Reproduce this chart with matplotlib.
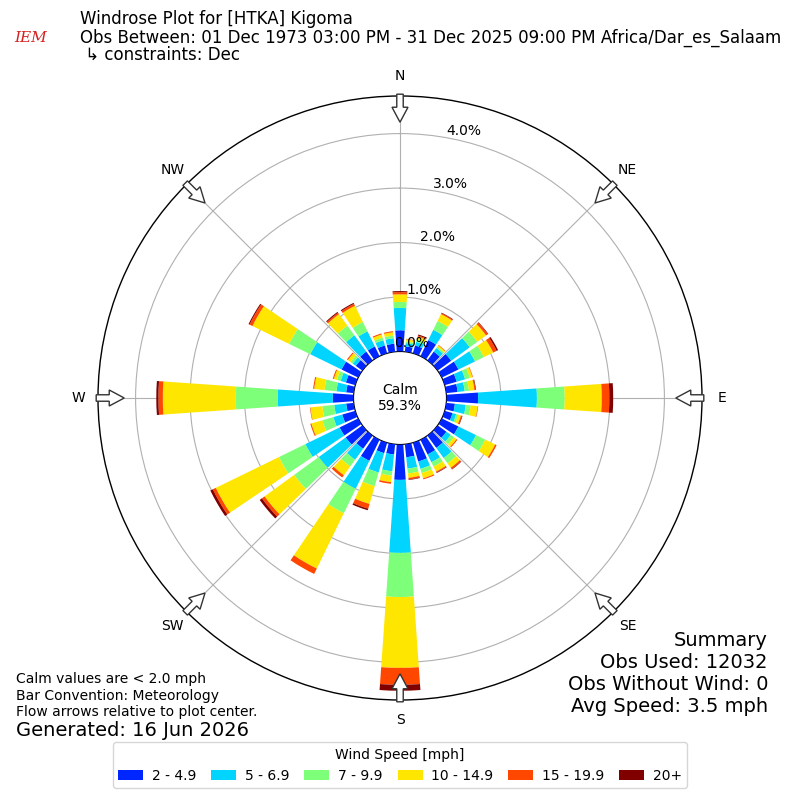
import numpy as np
import matplotlib.pyplot as plt
import matplotlib.transforms as mtransforms
from matplotlib.patches import FancyArrow, Patch

# === Data (percent of observations per 10 degree sector, per speed class) ===
directions = np.arange(0, 360, 10)
speed_labels = ['2 - 4.9', '5 - 6.9', '7 - 9.9', '10 - 14.9', '15 - 19.9', '20+']
speed_colors = ['#0026ff', '#00d4ff', '#7dff7a', '#ffe600', '#ff4700', '#800000']

freq_2_5 = [.39, .10, .15, .33, .20, .31, .34, .23, .21, .58, .16, .15,
            .34, .20, .28, .30, .36, .24, .65, .19, .20, .43, .30, .38,
            .38, .25, .14, .38, .14, .18, .34, .15, .20, .20, .15, .15]
freq_5_7 = [.41, .06, .07, .21, .08, .42, .34, .16, .13, 1.08, .20, .07,
            .36, .10, .23, .16, .14, .21, 1.34, .31, .37, .57, .25, .61,
            .70, .17, .22, 1.01, .18, .10, .64, .07, .37, .31, .10, .10]
freq_7_10 = [.11, .03, .05, .18, .03, .17, .18, .09, .08, .51, .09, .04,
             .19, .07, .12, .09, .08, .09, .81, .08, .26, .50, .15, .56,
             .54, .21, .22, .77, .22, .07, .43, .05, .22, .19, .05, .05]
freq_10_15 = [.14, .04, .05, .14, .03, .20, .19, .05, .10, .68, .13, .05,
              .20, .06, .10, .10, .10, .08, 1.30, .12, .34, 1.13, .20, .67,
              1.29, .21, .22, 1.34, .19, .06, .75, .06, .26, .33, .06, .06]
freq_15_20 = [.04, .01, .02, .02, .01, .04, .07, .01, .02, .14, .01, .02,
              .03, .02, .03, .02, .02, .03, .31, .03, .09, .11, .05, .06,
              .06, .02, .01, .08, .02, .02, .06, .02, .03, .04, .02, .02]
freq_20p = [.02, .00, .02, .01, .00, .01, .03, .00, .01, .07, .00, .01,
            .00, .00, .01, .01, .00, .01, .11, .00, .03, .00, .00, .05,
            .05, .00, .00, .04, .00, .00, .02, .00, .02, .02, .00, .00]

calm_pct = 59.3
rings = [0, 1, 2, 3, 4]

# === Figure ===
fig = plt.figure(figsize=(8, 8), dpi=100)
ax = fig.add_axes([0.1225, 0.125, 0.755, 0.755], projection='polar')
ax.set_theta_zero_location('N')
ax.set_theta_direction(-1)

theta = np.deg2rad(directions)
width = np.deg2rad(8)
bottom = np.zeros(len(directions))
for vals, color, label in zip([freq_2_5, freq_5_7, freq_7_10, freq_10_15,
                               freq_15_20, freq_20p], speed_colors, speed_labels):
    vals = np.array(vals)
    ax.bar(theta, vals, width=width, bottom=bottom, color=color,
           edgecolor='none', zorder=3)
    bottom += vals

ax.set_rorigin(-0.853)
ax.set_ylim(0, 4.69)
ax.set_yticks(rings)
ax.set_yticklabels([])
ax.set_xticks(np.deg2rad(np.arange(0, 360, 45)))
ax.set_xticklabels([])
ax.grid(True, color='#b0b0b0', linewidth=0.8)
ax.spines['polar'].set_linewidth(1.0)

# ring labels, centred a bit above each ring
lab_tr = mtransforms.offset_copy(ax.transData, fig=fig, x=0, y=10, units='dots')
for r in rings:
    ax.text(np.deg2rad(14), r, f'{r:.1f}%', transform=lab_tr, ha='center',
            va='center', fontsize=10, zorder=6)

# direction labels and flow arrows
compass = ['N', 'NE', 'E', 'SE', 'S', 'SW', 'W', 'NW']
for i, name in enumerate(compass):
    a = np.deg2rad(i * 45)
    sx, sy = np.sin(a), np.cos(a)
    ax.text(0.5 + 0.533 * sx, 0.5 + 0.533 * sy, name, transform=ax.transAxes,
            ha='center', va='center', fontsize=10)
    r0 = 0.503
    ax.add_patch(FancyArrow(0.5 + r0 * sx, 0.5 + r0 * sy, -0.0464 * sx, -0.0464 * sy,
                            width=0.0107, head_width=0.0265, head_length=0.0248,
                            length_includes_head=True, facecolor='white',
                            edgecolor='#333333', linewidth=1.0,
                            transform=ax.transAxes, clip_on=False, zorder=5))

ax.text(0.5, 0.5, f'Calm\n{calm_pct:.1f}%', transform=ax.transAxes,
        ha='center', va='center', fontsize=10, zorder=6)

# === Header ===
fig.text(0.1, 0.976, 'Windrose Plot for [HTKA] Kigoma', fontsize=12, va='center')
fig.text(0.1, 0.9525, 'Obs Between: 01 Dec 1973 03:00 PM - 31 Dec 2025 09:00 PM Africa/Dar_es_Salaam',
         fontsize=12, va='center')
fig.text(0.1, 0.931, ' \u21b3 constraints: Dec', fontsize=12, va='center')
fig.text(0.038, 0.952, 'IEM', fontsize=11, color='#d62020', family='DejaVu Serif',
         style='italic', ha='center', va='center')

# === Footer notes ===
fig.text(0.02, 0.151, 'Calm values are < 2.0 mph', fontsize=10, va='center')
fig.text(0.02, 0.130, 'Bar Convention: Meteorology', fontsize=10, va='center')
fig.text(0.02, 0.110, 'Flow arrows relative to plot center.', fontsize=10, va='center')
fig.text(0.02, 0.0875, 'Generated: 16 Jun 2026', fontsize=14, va='center')

summary = ['Summary', 'Obs Used: 12032', 'Obs Without Wind: 0', 'Avg Speed: 3.5 mph']
for k, line in enumerate(summary):
    fig.text(0.96, 0.2 - k * 0.0275, line, fontsize=14, ha='right', va='center')

handles = [Patch(facecolor=c) for c in speed_colors]
fig.legend(handles, speed_labels, loc='lower center', bbox_to_anchor=(0.5, 0.006),
           ncol=6, title='Wind Speed [mph]', fontsize=10, title_fontsize=10,
           handlelength=1.8, handleheight=0.7, handletextpad=0.6,
           columnspacing=1.1)

fig.savefig('out.png', dpi=100)
